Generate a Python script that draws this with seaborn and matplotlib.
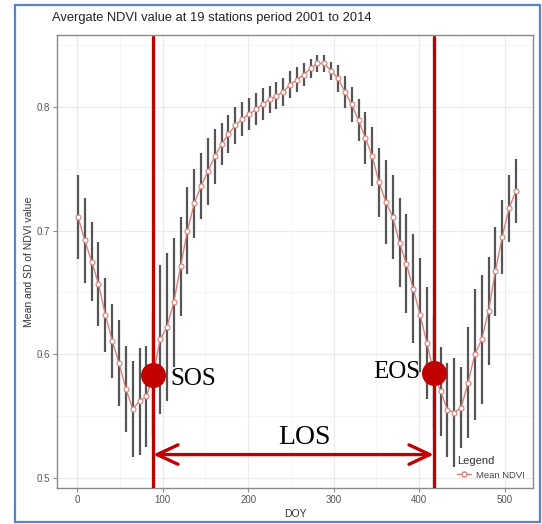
import numpy as np
import pandas as pd
import matplotlib
matplotlib.use("Agg")
import matplotlib.pyplot as plt
import matplotlib.patches as patches
from matplotlib.lines import Line2D
import seaborn as sns

# 8-day composites, mean and SD of NDVI over 19 stations
doy = [1, 9, 17, 25, 33, 41, 49, 57, 65, 73, 81, 89, 97, 105, 113, 121, 129,
       137, 145, 153, 161, 169, 177, 185, 193, 201, 209, 217, 225, 233, 241,
       249, 257, 265, 273, 281, 289, 297, 305, 313, 321, 329, 337, 345, 353,
       361, 369, 377, 385, 393, 401, 409, 417, 425, 433, 441, 449, 457, 465,
       473, 481, 489, 497, 505, 513]
mean_ndvi = [0.711, 0.692, 0.675, 0.657, 0.632, 0.611, 0.593, 0.572, 0.556,
             0.562, 0.566, 0.583, 0.612, 0.622, 0.642, 0.671, 0.700, 0.722,
             0.736, 0.748, 0.760, 0.770, 0.778, 0.785, 0.790, 0.794, 0.798,
             0.802, 0.806, 0.809, 0.812, 0.818, 0.822, 0.826, 0.831, 0.835,
             0.835, 0.829, 0.823, 0.812, 0.802, 0.789, 0.775, 0.760, 0.739,
             0.723, 0.711, 0.690, 0.673, 0.653, 0.632, 0.609, 0.585, 0.570,
             0.555, 0.553, 0.557, 0.577, 0.600, 0.612, 0.635, 0.667, 0.695,
             0.718, 0.732]
sd_ndvi = [0.034, 0.034, 0.032, 0.034, 0.030, 0.030, 0.035, 0.035, 0.039,
           0.043, 0.041, 0.050, 0.060, 0.060, 0.052, 0.040, 0.035, 0.028,
           0.027, 0.027, 0.022, 0.017, 0.015, 0.015, 0.014, 0.013, 0.013,
           0.013, 0.011, 0.011, 0.011, 0.011, 0.010, 0.009, 0.008, 0.007,
           0.007, 0.007, 0.011, 0.013, 0.014, 0.017, 0.021, 0.024, 0.028,
           0.034, 0.034, 0.036, 0.040, 0.044, 0.046, 0.045, 0.045, 0.036,
           0.038, 0.044, 0.033, 0.045, 0.053, 0.052, 0.044, 0.036, 0.030,
           0.027, 0.026]

sos_doy, sos_val = 89, 0.583
eos_doy, eos_val = 417, 0.585
los_level = 0.519

df = pd.DataFrame({"DOY": doy, "NDVI": mean_ndvi, "SD": sd_ndvi})

sns.set_theme(style="whitegrid")
plt.rcParams["font.family"] = ["Liberation Sans", "DejaVu Sans"]

fig = plt.figure(figsize=(5.42, 5.24), dpi=100)
fig.patch.set_facecolor("white")
ax = fig.add_axes([57 / 542, 1 - 488 / 524, 476 / 542, 453 / 524])

# outer blue frame
fig.patches.append(patches.Rectangle((15 / 542, 1 - 522 / 524), 525 / 542, 517 / 524,
                                     transform=fig.transFigure, fill=False,
                                     edgecolor="#5b84c4", linewidth=1.6))

# SD bars
ax.vlines(df["DOY"], df["NDVI"] - df["SD"], df["NDVI"] + df["SD"],
          color="#555555", linewidth=1.6, zorder=2)

line_col = "#d98078"
sns.lineplot(data=df, x="DOY", y="NDVI", ax=ax, color=line_col, linewidth=1.0,
             marker="o", markersize=3.6, markerfacecolor="white",
             markeredgecolor=line_col, markeredgewidth=0.8, zorder=3)

red = "#c00000"
for xv in (sos_doy, eos_doy):
    ax.axvline(xv, ymax=0.995, color=red, linewidth=2.4, zorder=4)
ax.plot([sos_doy, eos_doy], [sos_val, eos_val], "o", color=red, markersize=17, zorder=5)

ax.text(sos_doy + 20, sos_val - 0.003, "SOS", family="Liberation Serif", fontsize=18,
        ha="left", va="center", color="black", zorder=6)
ax.text(eos_doy - 16, eos_val + 0.001, "EOS", family="Liberation Serif", fontsize=18,
        ha="right", va="center", color="black", zorder=6)
ax.text(266, 0.533, "LOS", family="Liberation Serif", fontsize=20,
        ha="center", va="center", color="black", zorder=6)
ax.annotate("", xy=(sos_doy, los_level), xytext=(eos_doy, los_level),
            arrowprops=dict(arrowstyle="<->,head_length=0.75,head_width=0.35",
                            color=red, lw=2.4, mutation_scale=20,
                            shrinkA=0, shrinkB=0), zorder=4)

ax.set_xlim(-23.5, 533)
ax.set_ylim(0.492, 0.858)
ax.set_xticks([0, 100, 200, 300, 400, 500])
ax.set_xticks([50, 150, 250, 350, 450], minor=True)
ax.set_yticks([0.5, 0.6, 0.7, 0.8])
ax.set_yticklabels(["0.5", "0.6", "0.7", "0.8"])
ax.set_yticks([0.55, 0.65, 0.75, 0.85], minor=True)
ax.grid(True, which="major", color="#ebebeb", linewidth=0.9)
ax.grid(True, which="minor", color="#f3f3f3", linewidth=0.5)
ax.set_axisbelow(True)
for s in ax.spines.values():
    s.set_color("#8a8a8a")
    s.set_linewidth(1.0)
ax.tick_params(axis="both", which="major", length=3, width=0.8, color="#8a8a8a",
               labelsize=7, labelcolor="#555555", pad=2, bottom=True, left=True)
ax.tick_params(which="minor", length=0)

ax.set_xlabel("DOY", fontsize=7.5, color="#333333", labelpad=3)
ax.set_ylabel("Mean and SD of NDVI value", fontsize=7.5, color="#333333", labelpad=2)
fig.text(52 / 542, 1 - 18 / 524, "Avergate NDVI value at 19 stations period 2001 to 2014",
         fontsize=9.3, color="#222222", ha="left", va="center")

handle = Line2D([], [], color=line_col, linewidth=1.0, marker="o", markersize=3.6,
                markerfacecolor="white", markeredgecolor=line_col)
leg = ax.legend([handle], ["Mean NDVI"], title="Legend", loc="lower right",
                bbox_to_anchor=(1.0, 0.0), frameon=False, fontsize=6.8,
                title_fontsize=8, handlelength=1.5, handletextpad=0.5,
                alignment="left")
leg.get_title().set_color("#333333")
for t in leg.get_texts():
    t.set_color("#444444")

fig.savefig("out.png", dpi=100)
